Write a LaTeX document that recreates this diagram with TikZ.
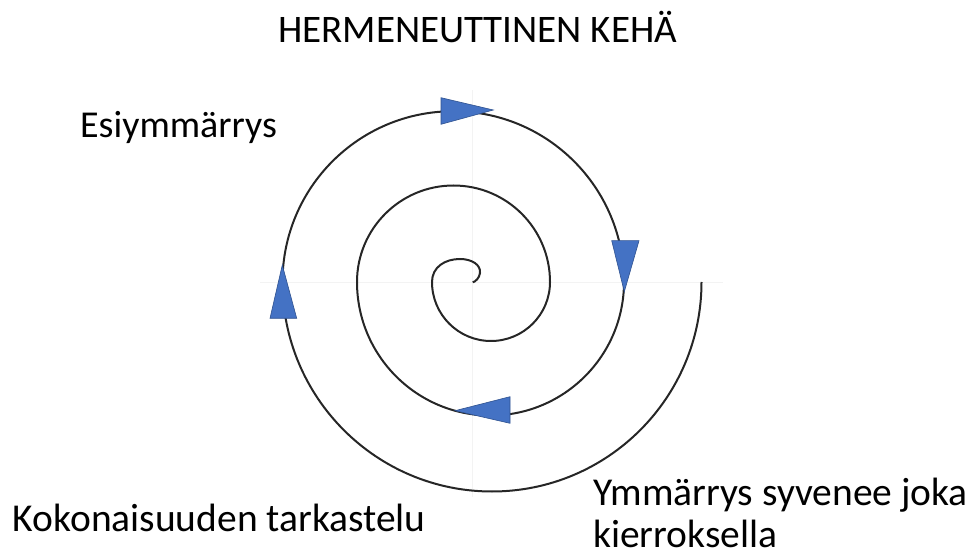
\documentclass[tikz,border=0pt]{standalone}
\usepackage{fontspec}
\setmainfont{Carlito}
\definecolor{arrowblue}{HTML}{4472C4}
\definecolor{arrowedge}{HTML}{2F528F}
\definecolor{axisgray}{HTML}{F3F3F3}
\begin{document}
\begin{tikzpicture}[x=1pt,y=1pt,
  spiral/.style={line width=2pt,draw=black!85},
  tri/.style={fill=arrowblue,draw=arrowedge,line width=0.6pt,line join=miter},
  axisline/.style={draw=axisgray,line width=0.8pt},
  lbl/.style={inner sep=0pt,anchor=base west,font=\fontsize{39.5}{41.5}\selectfont},
  ttl/.style={inner sep=0pt,anchor=base west,font=\fontsize{39}{42}\selectfont}]
\useasboundingbox (0,0) rectangle (974,557);
% faint axes
\draw[axisline] (260,275) -- (723,275);
\draw[axisline] (472,467) -- (472,60);
% spiral
\draw[spiral] (472.7,274.7) .. controls (475,275) and (479.5,279) .. (480,284)
  .. controls (481,292) and (472,298) .. (460,298)
  .. controls (445,298) and (432,290) .. (432,275)
  arc[start angle=180,end angle=360,radius=59]
  arc[start angle=0,end angle=180,radius=96.5]
  arc[start angle=180,end angle=360,radius=133.5]
  arc[start angle=0,end angle=180,radius=170.75]
  arc[start angle=180,end angle=360,radius=209.5];
% arrowheads
\draw[tri] (441,459.3) -- (441,432.7) -- (493.3,447) -- cycle;
\draw[tri] (611.7,316.3) -- (639,316.3) -- (624.3,265.3) -- cycle;
\draw[tri] (510,160.3) -- (510,133.7) -- (455,146.3) -- cycle;
\draw[tri] (270,238.7) -- (296.7,238.7) -- (282.3,292) -- cycle;
% texts
\node[ttl] (title) at (278,514.7) {HERMENEUTTINEN KEHÄ};
\node[lbl,font=\fontsize{38}{41.5}\selectfont] (esi) at (80,419.7) {Esiymmärrys};
\node[lbl] (kok) at (12.7,25.3) {Kokonaisuuden tarkastelu};
\node[lbl] (ymm1) at (593,51.3) {Ymmärrys syvenee joka};
\node[lbl] (ymm2) at (593,10) {kierroksella};
\end{tikzpicture}
\end{document}
